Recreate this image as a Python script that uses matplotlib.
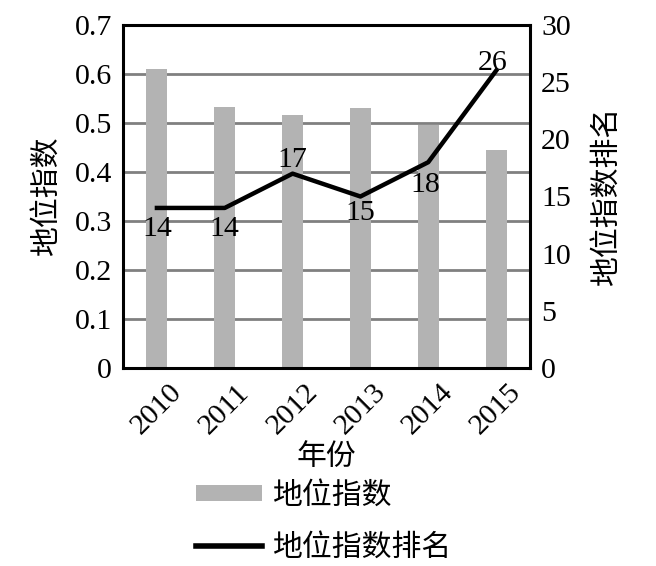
import matplotlib.pyplot as plt
import numpy as np

plt.rcParams['font.family'] = ['Liberation Serif', 'Noto Sans CJK SC']

years = ['2010', '2011', '2012', '2013', '2014', '2015']
index_vals = [0.610, 0.533, 0.516, 0.531, 0.496, 0.445]
rank_vals = [14, 14, 17, 15, 18, 26]

FS = 21.5

fig = plt.figure(figsize=(6.56, 5.66), dpi=100)
ax = fig.add_axes([123 / 656, 1 - 368 / 566, 407 / 656, 343 / 566])
x = np.arange(len(years))

bars = ax.bar(x, index_vals, width=0.31, color='#b3b3b3', zorder=2)
ax.set_ylim(0, 0.7)
ax.set_xlim(-0.5, len(years) - 0.5)
ax.set_yticks(np.arange(0, 0.71, 0.1))
ax.set_yticklabels(['0', '0.1', '0.2', '0.3', '0.4', '0.5', '0.6', '0.7'])
ax.yaxis.grid(True, color='#808080', linewidth=2, zorder=1)
ax.set_axisbelow(True)
ax.set_xticks(x)
ax.set_xticklabels(years, rotation=45, ha='center')
ax.tick_params(length=0, labelsize=FS, pad=8)
ax.tick_params(axis='x', pad=8)
ax.set_ylabel('地位指数', fontsize=FS, labelpad=10)
ax.set_xlabel('年份', fontsize=FS, labelpad=3)
for s in ax.spines.values():
    s.set_linewidth(2.2)

ax2 = ax.twinx()
line, = ax2.plot(x, rank_vals, color='black', linewidth=3.2, zorder=3)
ax2.set_ylim(0, 30)
ax2.set_yticks(range(0, 31, 5))
ax2.tick_params(length=0, labelsize=FS, pad=8)
ax2.set_ylabel('地位指数排名', fontsize=FS, labelpad=16)

# pixel offsets of the value labels from their points
offsets = [(0, -21), (0, -21), (0, 14), (0, -17), (-3, -23), (-3, 8)]
for xi, v, (dx, dy) in zip(x, rank_vals, offsets):
    ax2.annotate(str(v), (xi, v), xytext=(dx, dy), textcoords='offset pixels',
                 ha='center', va='center', fontsize=FS)

leg = fig.legend([bars, line], ['地位指数', '地位指数排名'], loc='upper left',
                 bbox_to_anchor=(169 / 656, 1 - 455 / 566), frameon=False,
                 fontsize=FS, handlelength=2.2, handleheight=0.45,
                 labelspacing=0.8, handletextpad=0.35)
for ln in leg.get_lines():
    ln.set_linewidth(4)

fig.savefig('out.png', dpi=100)
